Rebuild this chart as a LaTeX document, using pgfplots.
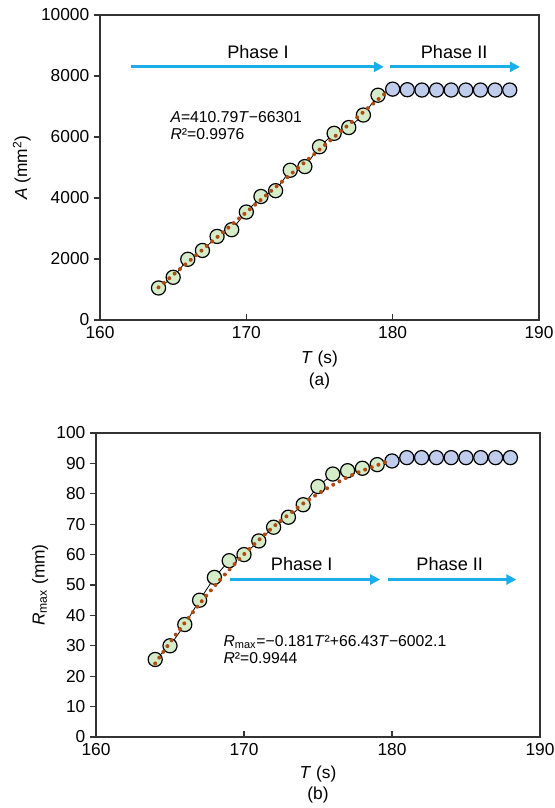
\documentclass[border=0pt]{standalone}
\usepackage{fontspec}
\setmainfont{Liberation Sans}
\usepackage{pgfplots}
\pgfplotsset{compat=1.18}
\usetikzlibrary{arrows.meta}
\definecolor{arrowblue}{HTML}{1AADE8}
\definecolor{ptgreen}{HTML}{D4ECC8}
\definecolor{ptblue}{HTML}{BFCCEC}
\definecolor{fitbrown}{HTML}{AE4A12}
\definecolor{axisgray}{HTML}{333333}

\tikzset{phase/.style={-{Triangle[length=7.5pt,width=7.5pt]}, arrowblue, line width=2.2pt}}
\pgfplotsset{
  panel/.style={
    scale only axis,
    xmin=160, xmax=190, xtick={160,170,180,190},
    xtick pos=bottom, ytick pos=left,
    xtick align=inside, ytick align=outside,
    major tick length=4.5pt,
    axis line style={line width=0.9pt, color=axisgray},
    tick style={line width=0.8pt, color=axisgray},
    tick label style={font=\fontsize{13}{15}\selectfont,
      /pgf/number format/assume math mode=true},
    xticklabel style={yshift=-1.5pt},
    yticklabel style={/pgf/number format/1000 sep={}},
    scaled y ticks=false,
    label style={font=\fontsize{13}{15}\selectfont},
    clip=false, clip mode=individual,
  },
  pts/.style={only marks, mark=*, mark size=5.3pt,
    mark options={draw=black, line width=0.9pt, fill=#1}},
  fit/.style={fitbrown, line width=3pt, line cap=round,
    dash pattern=on 0pt off 5.3pt},
  link/.style={black, line width=0.6pt},
}

\begin{document}
\begin{tikzpicture}
\useasboundingbox (0pt,0pt) rectangle (416.25pt,606pt);

% (a) area A
\begin{axis}[panel,
  at={(75pt,366pt)}, anchor=south west,
  width=329.25pt, height=228.75pt,
  ymin=0, ymax=10000, ytick={0,2000,4000,6000,8000,10000},
  xlabel={\textit{T} (s)},
  ylabel={\textit{A} (mm\textsuperscript{2})},
  xlabel style={at={(axis description cs:0.5,0)}, anchor=center, yshift=-29pt},
  ylabel style={at={(axis description cs:-0.178,0.5)}, anchor=center},
]
\addplot[link] coordinates {
  (164,1050)(165,1400)(166,1990)(167,2280)(168,2740)(169,2960)
  (170,3540)(171,4050)(172,4240)(173,4910)(174,5030)(175,5680)
  (176,6120)(177,6310)(178,6720)(179,7370)(180,7570)};
\addplot[pts=ptgreen] coordinates {
  (164,1050)(165,1400)(166,1990)(167,2280)(168,2740)(169,2960)
  (170,3540)(171,4050)(172,4240)(173,4910)(174,5030)(175,5680)
  (176,6120)(177,6310)(178,6720)(179,7370)};
\addplot[pts=ptblue] coordinates {
  (180,7570)(181,7550)(182,7540)(183,7540)(184,7540)(185,7540)
  (186,7540)(187,7540)(188,7540)};
\addplot[fit] coordinates {(164,1068.6)(179.7,7516.6)};
\draw[phase] (axis cs:162.1,8300) -- (axis cs:179.4,8300);
\draw[phase] (axis cs:179.8,8300) -- (axis cs:188.7,8300);
\node[font=\fontsize{13.6}{16}\selectfont] at (axis cs:170.8,8790) {Phase I};
\node[font=\fontsize{13.6}{16}\selectfont] at (axis cs:184.2,8790) {Phase II};
\node[font=\fontsize{11.8}{14}\selectfont, align=left, anchor=north west, inner sep=0pt]
  at (axis cs:164.8,6850) {\textit{A}=410.79\textit{T}−66301\\[-1pt]\textit{R}²=0.9976};
\node[font=\fontsize{13}{15}\selectfont] at (axis description cs:0.5,0) [yshift=-46pt] {(a)};
\end{axis}

% (b) maximum radius
\begin{axis}[panel,
  at={(72pt,53.25pt)}, anchor=south west,
  width=333pt, height=228pt,
  ymin=0, ymax=100, ytick={0,10,...,100},
  xlabel={\textit{T} (s)},
  ylabel={\textit{R}\textsubscript{max} (mm)},
  xlabel style={at={(axis description cs:0.5,0)}, anchor=center, yshift=-27.5pt},
  ylabel style={at={(axis description cs:-0.126,0.5)}, anchor=center},
]
\addplot[link] coordinates {
  (164,25.5)(165,30)(166,37)(167,45)(168,52.5)(169,58)(170,60)
  (171,64.5)(172,69)(173,72.3)(174,76.4)(175,82.4)(176,86.5)
  (177,87.6)(178,88.4)(179,89.6)(180,90.8)};
\addplot[pts=ptgreen] coordinates {
  (164,25.5)(165,30)(166,37)(167,45)(168,52.5)(169,58)(170,60)
  (171,64.5)(172,69)(173,72.3)(174,76.4)(175,82.4)(176,86.5)
  (177,87.6)(178,88.4)(179,89.6)};
\addplot[pts=ptblue] coordinates {
  (180,90.8)(181,91.9)(182,91.9)(183,91.9)(184,91.9)(185,91.9)
  (186,91.9)(187,91.9)(188,91.9)};
\addplot[fit, smooth] coordinates {
  (164,24.2)(165,31.1)(166,37.6)(167,43.8)(168,49.6)(169,55.0)
  (170,60.1)(171,64.8)(172,69.2)(173,73.1)(174,76.8)(175,80.0)
  (176,82.9)(177,85.5)(178,87.6)(179,89.4)(179.8,90.8)};
\draw[phase] (axis cs:169.05,51.8) -- (axis cs:179.2,51.8);
\draw[phase] (axis cs:179.75,51.8) -- (axis cs:188.4,51.8);
\node[font=\fontsize{13.6}{16}\selectfont] at (axis cs:173.9,56.9) {Phase I};
\node[font=\fontsize{13.6}{16}\selectfont] at (axis cs:183.9,56.9) {Phase II};
\node[font=\fontsize{11.8}{14}\selectfont, align=left, anchor=north west, inner sep=0pt]
  at (axis cs:168.6,33.6) {\textit{R}\textsubscript{max}=−0.181\textit{T}²+66.43\textit{T}−6002.1\\[-1pt]\textit{R}²=0.9944};
\node[font=\fontsize{13}{15}\selectfont] at (axis description cs:0.5,0) [yshift=-43.5pt] {(b)};
\end{axis}
\end{tikzpicture}
\end{document}
